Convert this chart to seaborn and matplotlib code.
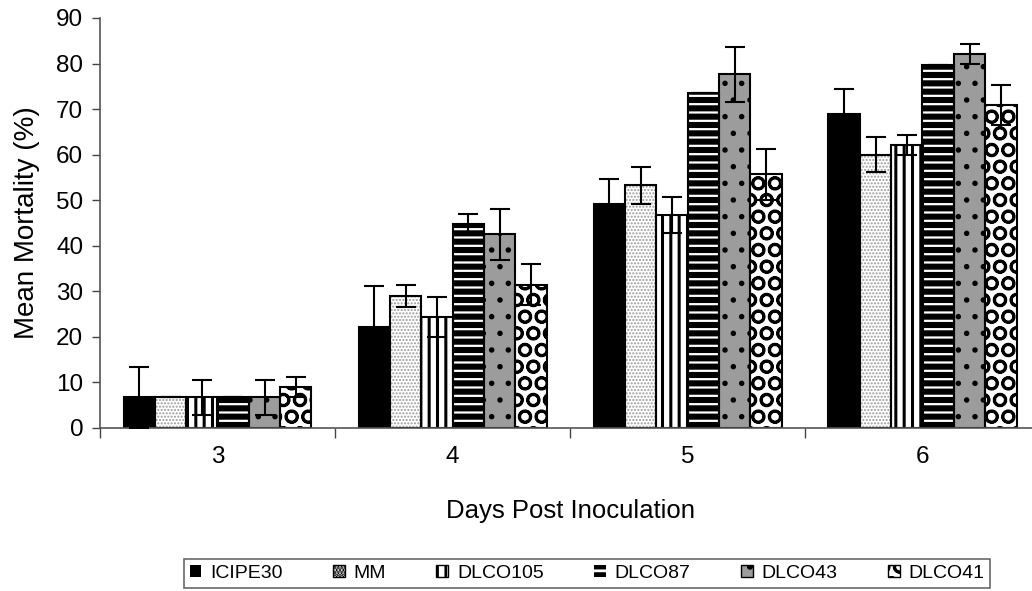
import matplotlib
matplotlib.use("Agg")
import matplotlib.pyplot as plt
from matplotlib.patches import Patch
import numpy as np
import pandas as pd
import seaborn as sns

days = ["3", "4", "5", "6"]
strains = ["ICIPE30", "MM", "DLCO105", "DLCO87", "DLCO43", "DLCO41"]
means = {
    "ICIPE30": [6.7, 22.2, 49.1, 68.9],
    "MM":      [6.7, 28.9, 53.3, 60.0],
    "DLCO105": [6.7, 24.4, 46.7, 62.1],
    "DLCO87":  [6.7, 44.7, 73.5, 79.7],
    "DLCO43":  [6.7, 42.5, 77.6, 82.0],
    "DLCO41":  [8.9, 31.5, 55.7, 71.0],
}
errors = {
    "ICIPE30": [6.7, 8.9, 5.6, 5.6],
    "MM":      [0.0, 2.4, 4.1, 3.9],
    "DLCO105": [3.8, 4.4, 3.9, 2.2],
    "DLCO87":  [0.0, 2.2, 0.0, 0.0],
    "DLCO43":  [3.8, 5.6, 6.1, 2.2],
    "DLCO41":  [2.2, 4.4, 5.6, 4.4],
}

# styles: face, hatch, hatch colour, hatch linewidth
styles = {
    "ICIPE30": ("black", "", "black", 1.0),
    "MM":      ("white", ".....", "#9a9a9a", 1.0),
    "DLCO105": ("white", "||", "black", 2.2),
    "DLCO87":  ("black", "--", "white", 1.6),
    "DLCO43":  ("#9c9c9c", ".", "black", 1.5),
    "DLCO41":  ("white", "O", "black", 2.0),
}

rows = []
for s in strains:
    for d, v, e in zip(days, means[s], errors[s]):
        rows.append({"day": d, "strain": s, "value": v, "err": e})
df = pd.DataFrame(rows)

sns.set_style("white")
plt.rcParams["font.family"] = ["Liberation Sans", "DejaVu Sans"]
plt.rcParams["text.color"] = "black"
plt.rcParams["axes.labelcolor"] = "black"
plt.rcParams["xtick.color"] = "black"
plt.rcParams["ytick.color"] = "black"
plt.rcParams["hatch.linewidth"] = 2.0

fig = plt.figure(figsize=(10.32, 5.91), dpi=100)
ax = fig.add_axes([100 / 1032, (591 - 428) / 591, 940 / 1032, 410 / 591])

sns.barplot(data=df, x="day", y="value", hue="strain", order=days,
            hue_order=strains, width=0.8, gap=0, errorbar=None,
            palette=["white"] * 6, legend=False, ax=ax, linewidth=0,
            saturation=1)
for s, cont in zip(strains, ax.containers):
    face, hatch, hc, hlw = styles[s]
    for p in cont:
        p.set_facecolor(face)
        p.set_edgecolor(hc)
        p.set_hatch(hatch)
        p.set_linewidth(0)
        if hasattr(p, "set_hatch_linewidth"):
            p.set_hatch_linewidth(hlw)
n0 = len(ax.containers)
sns.barplot(data=df, x="day", y="value", hue="strain", order=days,
            hue_order=strains, width=0.8, gap=0, errorbar=None, fill=False,
            palette=["black"] * 6, legend=False, ax=ax, linewidth=1.5)

for s, cont in zip(strains, ax.containers[:n0]):
    xs = [p.get_x() + p.get_width() / 2 for p in cont]
    ax.errorbar(xs, means[s], yerr=errors[s], fmt="none", ecolor="black",
                elinewidth=1.5, capsize=7, capthick=1.5, zorder=5)

ax.set_xlim(-0.5, 3.5)
ax.set_ylim(0, 90)
ax.set_yticks(np.arange(0, 91, 10))
ax.set_xticks(np.arange(-0.5, 3.6, 1), minor=True)
ax.tick_params(axis="x", which="major", length=0, labelsize=17.5, pad=13)
ax.tick_params(axis="x", which="minor", length=7, width=1, color="#444444",
               direction="out", bottom=True)
ax.tick_params(axis="y", length=6, width=1, color="#444444", direction="out",
               left=True, labelsize=17.5, pad=6)
for sp in ["top", "right"]:
    ax.spines[sp].set_visible(False)
for sp in ["left", "bottom"]:
    ax.spines[sp].set_color("#555555")
    ax.spines[sp].set_linewidth(1.2)
ax.set_xlabel("Days Post Inoculation", fontsize=18.5, labelpad=22)
ax.set_ylabel("Mean Mortality (%)", fontsize=20, labelpad=12)

handles = []
for s in strains:
    face, hatch, hc, hlw = styles[s]
    if face == "black":
        handles.append(Patch(facecolor=face, hatch=hatch, edgecolor=hc,
                             linewidth=0))
    else:
        handles.append(Patch(facecolor=face, hatch=hatch, edgecolor="black",
                             linewidth=1))
leg = fig.legend(handles, strains, loc="center", ncol=6,
                 bbox_to_anchor=(587 / 1032, 1 - 573.5 / 591),
                 frameon=True, fancybox=False, edgecolor="#444444",
                 fontsize=14, handlelength=0.6, handleheight=0.6,
                 handletextpad=0.45, columnspacing=2.6, borderpad=0.3,
                 borderaxespad=0)
leg.get_frame().set_linewidth(1.2)

fig.savefig("out.png", dpi=100)
